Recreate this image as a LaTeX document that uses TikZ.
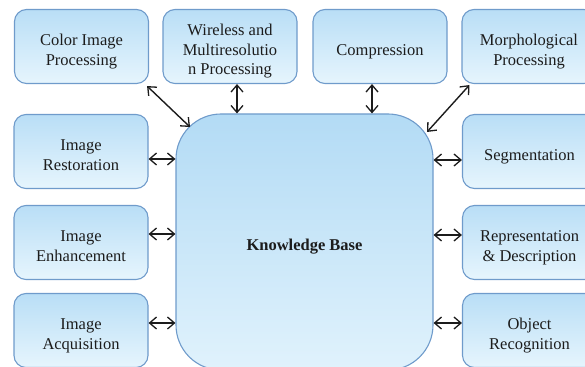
\documentclass[tikz,border=0pt]{standalone}
\usepackage{fontspec}
\setmainfont{Liberation Serif}
\usetikzlibrary{arrows.meta}
\definecolor{boxtop}{HTML}{B9DEF6}
\definecolor{boxbot}{HTML}{E6F5FD}
\definecolor{kbtop}{HTML}{B3DBF5}
\definecolor{kbbot}{HTML}{E0F2FC}
\definecolor{boxline}{HTML}{6F9BCB}
\definecolor{txt}{HTML}{1C1C1C}
\newcommand\lowtext[1]{\raisebox{-5pt}[\height][\depth]{\begin{tabular}{@{}c@{}}#1\end{tabular}}}
\tikzset{
  stagebox/.style={draw=boxline, line width=1.1pt, rounded corners=12pt,
    top color=boxtop, bottom color=boxbot, minimum width=134pt, minimum height=74pt,
    align=center, text=txt, font=\fontsize{16.5}{19.5}\selectfont, inner sep=2pt},
  kbbox/.style={draw=boxline, line width=1.1pt, rounded corners=45pt,
    top color=kbtop, bottom color=kbbot, minimum width=257pt, minimum height=256pt,
    text=txt, font=\fontsize{16.5}{19.5}\selectfont\bfseries},
  link/.style={{Straight Barb[length=7pt,width=12pt,line width=1.3pt]}-{Straight Barb[length=7pt,width=12pt,line width=1.3pt]},
    line width=1.4pt, draw=txt}
}
\begin{document}
\begin{tikzpicture}[x=1pt,y=-1pt]
\useasboundingbox (0,0) rectangle (585,366);
% knowledge base
\node[kbbox] (kb) at (304.5,242) {\lowtext{Knowledge Base}};
% top row
\node[stagebox] (color) at (81.5,46.5) {\lowtext{Color Image\\Processing}};
\node[stagebox] (wire) at (230,46.5) {\lowtext{Wireless and\\Multiresolutio\\n Processing}};
\node[stagebox] (comp) at (380,46.5) {\lowtext{Compression}};
\node[stagebox] (morph) at (529,46.5) {\lowtext{Morphological\\Processing}};
% left column
\node[stagebox] (rest) at (81,151.5) {\lowtext{Image\\Restoration}};
\node[stagebox] (enh) at (81,242.5) {\lowtext{Image\\Enhancement}};
\node[stagebox] (acq) at (81,330.5) {\lowtext{Image\\Acquisition}};
% right column
\node[stagebox] (seg) at (529.5,151.5) {\lowtext{Segmentation}};
\node[stagebox] (rep) at (529.5,242.5) {\lowtext{Representation\\\& Description}};
\node[stagebox] (obj) at (529.5,330.5) {\lowtext{Object\\Recognition}};
% attachment points on the rounded corners of the knowledge base
\coordinate (kbnw) at (190,127);
\coordinate (kbne) at (427,132);
% connectors
\draw[link] ([shift={(-2pt,-2pt)}]color.south east) -- (kbnw);
\draw[link] ([shift={(8pt,-1pt)}]morph.south west) -- (kbne);
\draw[link] ([xshift=7pt]wire.south) -- ([xshift=7pt]wire.south |- kb.north);
\draw[link] ([xshift=-8pt]comp.south) -- ([xshift=-8pt]comp.south |- kb.north);
\draw[link] ([yshift=-7.5pt]rest.east) -- ([yshift=-7.5pt]rest.east -| kb.west);
\draw[link] ([yshift=8.5pt]enh.east) -- ([yshift=8.5pt]enh.east -| kb.west);
\draw[link] ([yshift=7.5pt]acq.east) -- ([yshift=7.5pt]acq.east -| kb.west);
\draw[link] ([yshift=-8.5pt]seg.west) -- ([yshift=-8.5pt]seg.west -| kb.east);
\draw[link] ([yshift=7.5pt]rep.west) -- ([yshift=7.5pt]rep.west -| kb.east);
\draw[link] ([yshift=7.5pt]obj.west) -- ([yshift=7.5pt]obj.west -| kb.east);
\end{tikzpicture}
\end{document}
